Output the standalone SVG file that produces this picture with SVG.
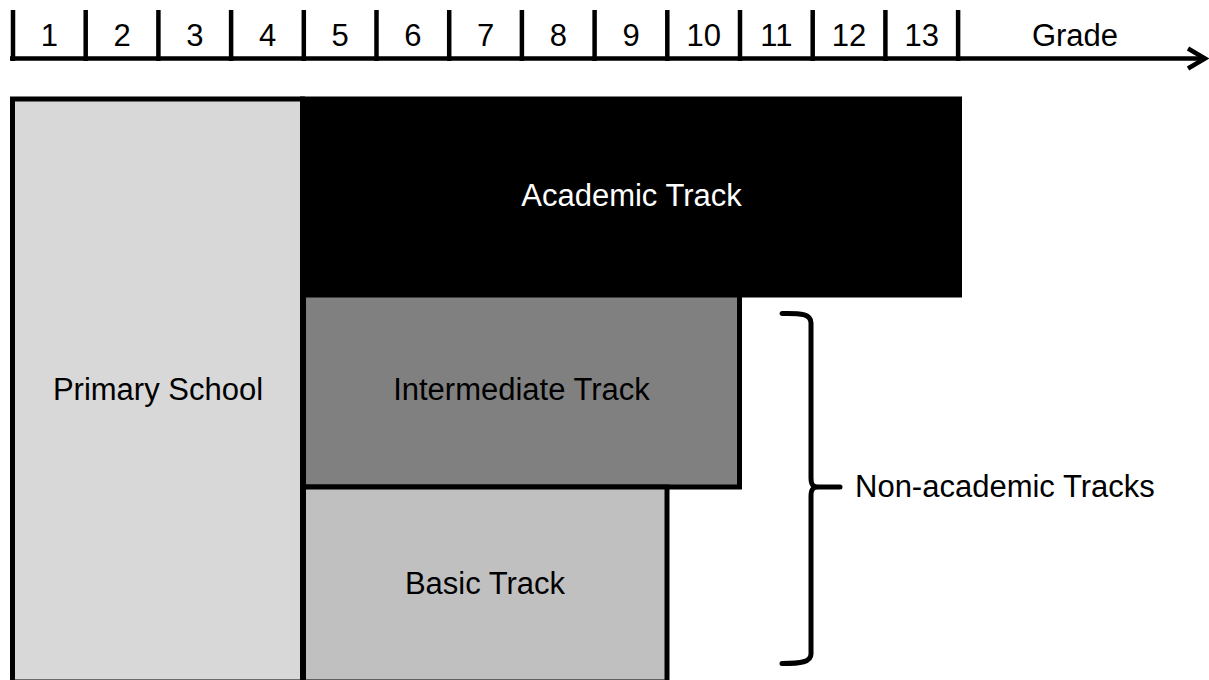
<svg xmlns="http://www.w3.org/2000/svg" width="1209" height="680" viewBox="0 0 1209 680">
<style>
.t{font-family:"Liberation Sans",Arial,sans-serif;text-anchor:middle}
.num{font-size:31px;fill:#000}
.lbl{font-size:31px;fill:#000}
.tick{stroke:#000;stroke-width:4.5}
.box{stroke:#000;stroke-width:5}
</style>
<rect width="1209" height="680" fill="#fff"/>
<g id="axis">
<line class="tick" x1="10" y1="58.5" x2="1205" y2="58.5"/>
<polyline points="1188,48.5 1205,58.5 1188,68.5" fill="none" stroke="#000" stroke-width="4.5" stroke-linejoin="miter"/>
<line class="tick" x1="13" y1="10" x2="13" y2="61"/>
<line class="tick" x1="85.7" y1="10" x2="85.7" y2="61"/>
<line class="tick" x1="158.4" y1="10" x2="158.4" y2="61"/>
<line class="tick" x1="231.1" y1="10" x2="231.1" y2="61"/>
<line class="tick" x1="303.8" y1="10" x2="303.8" y2="61"/>
<line class="tick" x1="376.5" y1="10" x2="376.5" y2="61"/>
<line class="tick" x1="449.2" y1="10" x2="449.2" y2="61"/>
<line class="tick" x1="521.9" y1="10" x2="521.9" y2="61"/>
<line class="tick" x1="594.6" y1="10" x2="594.6" y2="61"/>
<line class="tick" x1="667.3" y1="10" x2="667.3" y2="61"/>
<line class="tick" x1="740" y1="10" x2="740" y2="61"/>
<line class="tick" x1="812.7" y1="10" x2="812.7" y2="61"/>
<line class="tick" x1="885.4" y1="10" x2="885.4" y2="61"/>
<line class="tick" x1="958.1" y1="10" x2="958.1" y2="61"/>
<text class="t num" x="49.4" y="45.5">1</text>
<text class="t num" x="122" y="45.5">2</text>
<text class="t num" x="194.8" y="45.5">3</text>
<text class="t num" x="267.5" y="45.5">4</text>
<text class="t num" x="340.2" y="45.5">5</text>
<text class="t num" x="412.9" y="45.5">6</text>
<text class="t num" x="485.6" y="45.5">7</text>
<text class="t num" x="558.3" y="45.5">8</text>
<text class="t num" x="631" y="45.5">9</text>
<text class="t num" x="703.7" y="45.5">10</text>
<text class="t num" x="776.4" y="45.5">11</text>
<text class="t num" x="849.1" y="45.5">12</text>
<text class="t num" x="921.8" y="45.5">13</text>
<text class="t num" x="1075" y="45.5">Grade</text>
</g>
<g id="primary">
<rect class="box" x="12.5" y="99" width="290" height="583" fill="#d8d8d8"/>
<text class="t lbl" x="158" y="400">Primary School</text>
</g>
<g id="academic">
<rect class="box" x="302.5" y="99" width="657" height="196" fill="#000"/>
<text class="t lbl" x="631.5" y="206" style="fill:#fff">Academic Track</text>
</g>
<g id="intermediate">
<rect class="box" x="303.5" y="295" width="436" height="192" fill="#808080"/>
<text class="t lbl" x="521.5" y="400">Intermediate Track</text>
</g>
<g id="basic">
<rect class="box" x="303.5" y="487" width="363.5" height="195" fill="#c0c0c0"/>
<text class="t lbl" x="485" y="594">Basic Track</text>
</g>
<g id="connectors">
<path d="M782,313.5 C801,313 811,314 811,323 L811,478 C811,485 813,487 818,487 L840,487 M818,487 C813,487 811,489 811,496 L811,654 C811,662 801,663.5 782,663.5" fill="none" stroke="#000" stroke-width="5" stroke-linecap="round" stroke-linejoin="round"/>
</g>
<g id="nonacademic">
<text class="lbl" x="855" y="497" style="font-family:'Liberation Sans',Arial,sans-serif">Non-academic Tracks</text>
</g>
</svg>
